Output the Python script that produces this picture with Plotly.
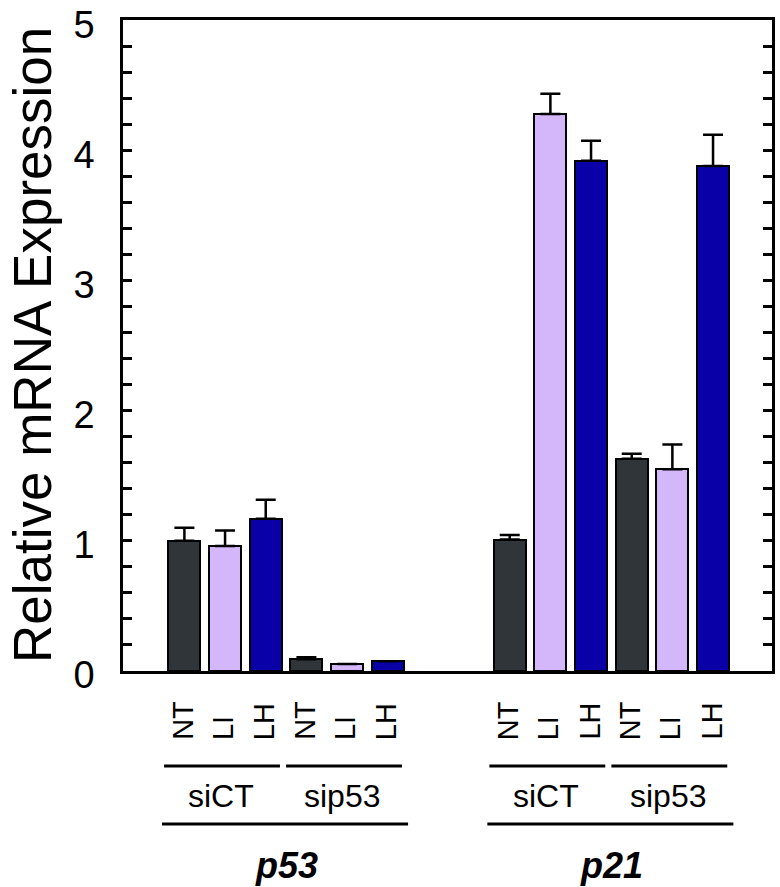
import plotly.graph_objects as go

# ---------------- data ----------------
genes = ["p53", "p21"]
sirnas = ["siCT", "sip53"]
conditions = ["NT", "LI", "LH"]
cond_labels = ["NT", "LI", "LH"]
y_ticks = [0, 1, 2, 3, 4, 5]

p53_siCT = [1.00, 0.96, 1.17]
p53_siCT_err = [0.10, 0.12, 0.145]
p53_sip53 = [0.09, 0.054, 0.075]
p53_sip53_err = [0.015, 0.0, 0.0]
p21_siCT = [1.01, 4.28, 3.92]
p21_siCT_err = [0.035, 0.155, 0.155]
p21_sip53 = [1.63, 1.55, 3.88]
p21_sip53_err = [0.04, 0.19, 0.24]

cond_colors = {"NT": "#2f3538", "LI": "#d4b7fa", "LH": "#0a00a8"}

# ---------------- bar positions ----------------
values = [p53_siCT, p53_sip53, p21_siCT, p21_sip53]
errors = [p53_siCT_err, p53_sip53_err, p21_siCT_err, p21_sip53_err]
group_start = [0, 3, 8, 11]

xs, ys, es, cols, labs = [], [], [], [], []
for g, (vals, errs) in enumerate(zip(values, errors)):
    for i, c in enumerate(conditions):
        xs.append(group_start[g] + i)
        ys.append(vals[i])
        es.append(errs[i])
        cols.append(cond_colors[c])
        labs.append(cond_labels[i])

fig = go.Figure()
fig.add_trace(go.Bar(
    x=xs, y=ys, width=0.79,
    marker=dict(color=cols, line=dict(color="black", width=2)),
    error_y=dict(type="data", array=es, arrayminus=[0] * len(es), symmetric=False,
                 color="black", thickness=2.5, width=10),
    showlegend=False,
))

W, H = 780, 887
PLOT_L, PLOT_T, PLOT_W, PLOT_H = 123, 20, 649, 651
PLOT_B = PLOT_T + PLOT_H  # 671


def py(pix):
    # pixel y (from top) -> paper coordinate
    return (PLOT_B - pix) / PLOT_H


def px(pix):
    return (pix - PLOT_L) / PLOT_W


anns = []
shapes = []
FONT = "Liberation Sans, Arial, sans-serif"

# rotated condition labels
for x, t in zip(xs, labs):
    anns.append(dict(x=x - 0.05, y=py(742), xref="x", yref="paper", text=t, textangle=-90,
                     showarrow=False, xanchor="center", yanchor="bottom",
                     font=dict(size=29, color="black", family=FONT)))

# siRNA lines & labels
for g in range(4):
    x0 = group_start[g] - 0.5
    x1 = group_start[g] + 2 + 0.35
    shapes.append(dict(type="line", xref="x", yref="paper", x0=x0, x1=x1,
                       y0=py(766), y1=py(766), line=dict(color="black", width=3)))
    anns.append(dict(x=(group_start[g] + 1) - 0.1, y=py(796), xref="x", yref="paper",
                     text=sirnas[g % 2], showarrow=False, xanchor="center", yanchor="middle",
                     font=dict(size=32, color="black", family=FONT)))

# gene lines & labels
for k, gene in enumerate(genes):
    s = group_start[2 * k]
    e = group_start[2 * k + 1] + 2
    shapes.append(dict(type="line", xref="x", yref="paper", x0=s - 0.55, x1=e + 0.5,
                       y0=py(824), y1=py(824), line=dict(color="black", width=3)))
    anns.append(dict(x=(s + e) / 2.0, y=py(865), xref="x", yref="paper",
                     text="<b><i>" + gene + "</i></b>", showarrow=False,
                     xanchor="center", yanchor="middle",
                     font=dict(size=36, color="black", family=FONT)))

# y-axis title
anns.append(dict(x=px(1), y=0.5, xref="paper", yref="paper",
                 text="Relative mRNA Expression", textangle=-90, showarrow=False,
                 xanchor="left", yanchor="middle",
                 font=dict(size=53, color="black", family=FONT)))

fig.update_layout(
    width=W, height=H,
    margin=dict(l=PLOT_L, r=W - PLOT_L - PLOT_W, t=PLOT_T, b=H - PLOT_B, pad=0),
    paper_bgcolor="white", plot_bgcolor="white",
    annotations=anns, shapes=shapes,
    bargap=0,
)
fig.update_xaxes(range=[-1.51, 14.45], showline=True, linecolor="black", linewidth=2.5,
                 mirror=True, showticklabels=False, ticks="", showgrid=False, zeroline=False,
                 automargin=False)
fig.update_yaxes(range=[0, 5.002], showline=True, linecolor="black", linewidth=2.5, mirror="allticks",
                 ticks="inside", ticklen=9, tickwidth=2.5, tickcolor="black",
                 tickvals=y_ticks, ticktext=[str(v) for v in y_ticks],
                 minor=dict(ticks="inside", ticklen=9, tickwidth=2.5, tickcolor="black",
                            dtick=0.2, tick0=0),
                 showgrid=False, zeroline=False, ticklabelstandoff=18, automargin=False,
                 ticklabeloverflow="allow", ticklabelshift=4,
                 tickfont=dict(size=38, color="black", family=FONT))

fig.write_html("out.html", config={"displayModeBar": False},
               post_script="document.body.style.margin='0';document.body.style.overflow='hidden';")
